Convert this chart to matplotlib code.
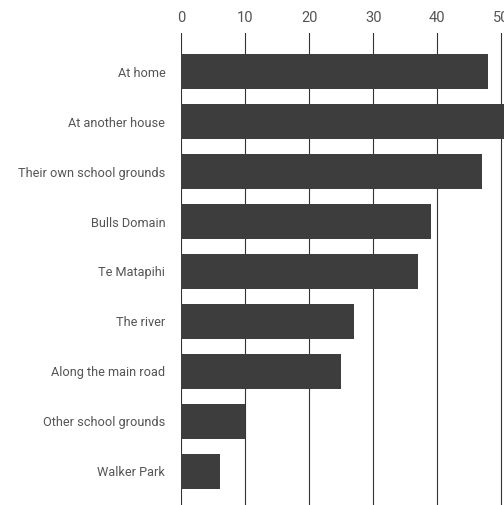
import matplotlib
matplotlib.use("Agg")
import matplotlib.pyplot as plt

categories = ["At home", "At another house", "Their own school grounds", "Bulls Domain",
              "Te Matapihi", "The river", "Along the main road", "Other school grounds", "Walker Park"]
values = [48, 51, 47, 39, 37, 27, 25, 10, 6]
xticks = [0, 10, 20, 30, 40, 50]

plt.rcParams['font.family'] = ['Roboto', 'DejaVu Sans']

W, H = 504, 505
fig = plt.figure(figsize=(W / 100, H / 100), dpi=100)
px_per_unit = 6.4
x0 = 181.3
xmax = 52
left = x0 / W
width = xmax * px_per_unit / W
top_px = 33
ax = fig.add_axes([left, 0, width, 1 - top_px / H])

ypos = list(range(len(categories)))
ax.barh(ypos, values, height=0.69, color="#3d3d3d", zorder=3)
ax.set_xlim(0, xmax)
ax.set_ylim(8 + (H - 471.3) / 50, -(71.7 - top_px) / 50)
ax.set_yticks(ypos)
ax.set_yticklabels(categories, fontsize=9.2, color="#555555")
ax.set_xticks(xticks)
ax.set_xticklabels([str(t) for t in xticks], fontsize=10.5, color="#555555")
ax.xaxis.tick_top()
ax.tick_params(axis='both', length=0)
ax.tick_params(axis='y', pad=11.5)
ax.tick_params(axis='x', pad=6)
for s in ax.spines.values():
    s.set_visible(False)
ax.grid(axis='x', color="#333333", linewidth=0.8, zorder=0)
ax.set_axisbelow(True)

fig.savefig("out.png", dpi=100)
